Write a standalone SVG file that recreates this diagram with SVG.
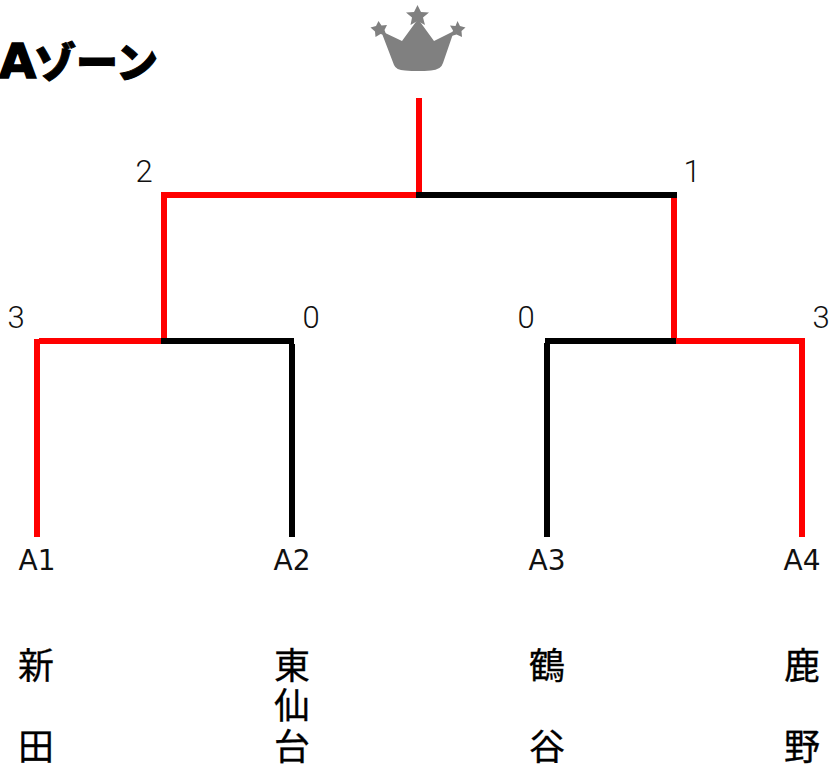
<svg xmlns="http://www.w3.org/2000/svg" width="831" height="767" viewBox="0 0 831 767">
<style>
.l{fill:none;stroke-width:6}
.r{stroke:#f00}
.k{stroke:#000}
text{fill:#000}
.n{font-family:Roboto,"Liberation Sans",sans-serif;font-weight:300;font-size:31px;fill:#111;text-anchor:middle}
.a{font-family:"DejaVu Sans",sans-serif;font-size:28px;text-anchor:middle;fill:#111}
.j{font-family:"Noto Sans CJK JP",sans-serif;font-size:36px;text-anchor:middle;stroke:#000;stroke-width:.3}
</style>
<rect width="831" height="767" fill="#fff"/>
<text id="title" y="78" style="font-family:'Noto Sans CJK JP',sans-serif;font-weight:900;font-size:42px;stroke:#000;stroke-width:1"><tspan x="-1" style="font-family:'DejaVu Sans',sans-serif;font-weight:700;font-size:48px;stroke-width:1.5">A</tspan><tspan x="34">ゾーン</tspan></text>
<g id="crown" fill="#808080">
<path d="M381 31L402 41L418 19L434 41L454 31L443 63Q441 70 431 70.500Q418 71.500 405 70.500Q396 70 394 65Z"/>
<polygon points="417.500,5 421,12 429,12.500 423,17.500 425,25 417.500,21 410.500,25 412,17.500 406,12.500 414,12"/>
<polygon points="378.500,21 381.500,25.500 387,25 384.500,30 386.500,35.500 380.500,34 375.500,37 375,31.500 370.500,27.500 376,26"/>
<polygon points="457.500,21 460,26 465.500,27.500 461.500,31 462,37 456.500,34.500 451.500,36 453,30.500 450,25.500 455.500,26"/>
</g>
<g id="connectors">
<path class="l r" d="M419 98V192"/>
<path class="l r" d="M164 338V195M161 195H416"/>
<path class="l k" d="M416 195H677"/>
<path class="l r" d="M674 198V338"/>
<path class="l r" d="M37 537V339M39 341H161"/>
<path class="l k" d="M161 341H294M292 344V537"/>
<path class="l k" d="M676 341H545M547 343V537"/>
<path class="l r" d="M802 537V341H676"/>
</g>
<g id="score-2"><text class="n" x="144" y="182">2</text></g>
<g id="score-1"><text class="n" x="692" y="182">1</text></g>
<g id="score-3a"><text class="n" x="16" y="328">3</text></g>
<g id="score-0a"><text class="n" x="311" y="328">0</text></g>
<g id="score-0b"><text class="n" x="526" y="328">0</text></g>
<g id="score-3b"><text class="n" x="821" y="328">3</text></g>
<g id="team-a1"><text class="a" x="37" y="570">A1</text><text class="j" x="36" y="679">新</text><text class="j" x="36" y="760">田</text></g>
<g id="team-a2"><text class="a" x="292" y="570">A2</text><text class="j" x="292" y="679">東</text><text class="j" x="292" y="719">仙</text><text class="j" x="292" y="760">台</text></g>
<g id="team-a3"><text class="a" x="547" y="570">A3</text><text class="j" x="547" y="679">鶴</text><text class="j" x="547" y="760">谷</text></g>
<g id="team-a4"><text class="a" x="802" y="570">A4</text><text class="j" x="802" y="679">鹿</text><text class="j" x="802" y="760">野</text></g>
</svg>
